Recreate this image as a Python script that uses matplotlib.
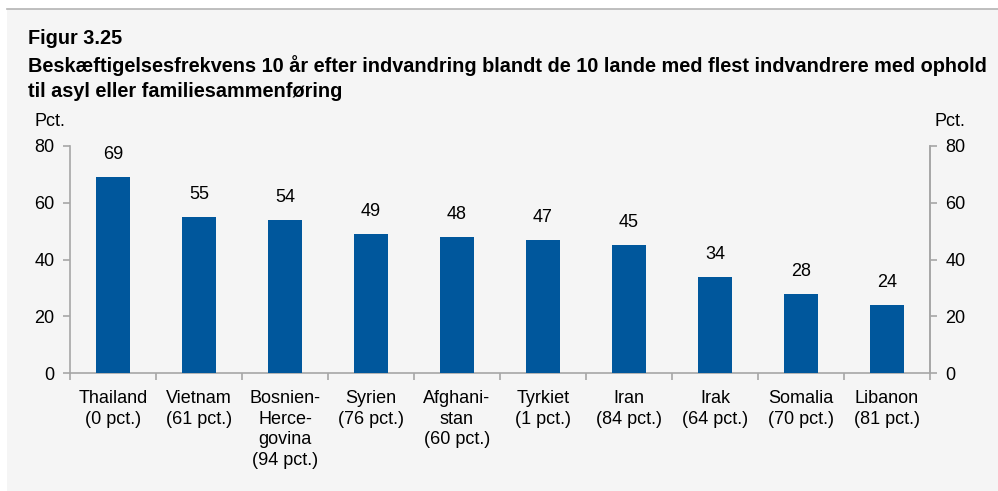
import matplotlib
matplotlib.use("Agg")
import matplotlib.pyplot as plt
from matplotlib.patches import Rectangle
from matplotlib.lines import Line2D

plt.rcParams['font.family'] = ['Liberation Sans', 'DejaVu Sans']

categories = ["Thailand\n(0 pct.)", "Vietnam\n(61 pct.)", "Bosnien-\nHerce-\ngovina\n(94 pct.)",
              "Syrien\n(76 pct.)", "Afghani-\nstan\n(60 pct.)", "Tyrkiet\n(1 pct.)",
              "Iran\n(84 pct.)", "Irak\n(64 pct.)", "Somalia\n(70 pct.)", "Libanon\n(81 pct.)"]
values = [69, 55, 54, 49, 48, 47, 45, 34, 28, 24]
yticks = [0, 20, 40, 60, 80]

W, H = 998, 491
fig = plt.figure(figsize=(W/100, H/100), dpi=100)
fig.patch.set_facecolor('white')
fig.patches.append(Rectangle((7/W, 0), 1 - 7/W, 1 - 9/H, transform=fig.transFigure,
                             facecolor='#f5f5f5', edgecolor='none', zorder=-10))
fig.lines.append(Line2D([7/W, 1], [1 - 9/H, 1 - 9/H], transform=fig.transFigure,
                        color='#b4b4b4', lw=1.2, zorder=-5))

tfs = 14.3
fig.text(28/W, 1 - 44/H, "Figur 3.25", fontsize=tfs, fontweight='bold', va='baseline')
fig.text(28/W, 1 - 72/H, "Beskæftigelsesfrekvens 10 år efter indvandring blandt de 10 lande med flest indvandrere med ophold",
         fontsize=tfs, fontweight='bold', va='baseline')
fig.text(28/W, 1 - 97/H, "til asyl eller familiesammenføring", fontsize=tfs, fontweight='bold', va='baseline')

ax = fig.add_axes([70/W, 1 - 373/H, 860/W, 227/H])
ax.set_facecolor('none')
x = list(range(len(values)))
ax.bar(x, values, width=0.4, color='#00579c', zorder=3)
ax.set_xlim(-0.5, len(values) - 0.5)
ax.set_ylim(0, 80)
ax.set_yticks(yticks)
ax.set_yticklabels([str(t) for t in yticks])
ax.set_xticks([i + 0.5 for i in range(-1, len(values))], minor=False)
ax.set_xticklabels([])
ax.set_xticks(x, minor=True)
ax.set_xticklabels(categories, minor=True, fontsize=13, linespacing=1.3)
ax.tick_params(axis='x', which='minor', length=0, pad=12)
ax.tick_params(axis='x', which='major', length=5, color='#a6a6a6', width=1.2, direction='out')
ax.tick_params(axis='y', length=5, color='#a6a6a6', width=1.2, labelsize=13, pad=6)
for s in ['top']:
    ax.spines[s].set_visible(False)
for s in ['left', 'right', 'bottom']:
    ax.spines[s].set_color('#a6a6a6')
    ax.spines[s].set_linewidth(1.2)

ax2 = ax.twinx()
ax2.set_ylim(0, 80)
ax2.set_yticks(yticks)
ax2.set_yticklabels([str(t) for t in yticks])
ax2.tick_params(axis='y', length=5, color='#a6a6a6', width=1.2, labelsize=13, pad=6)
for s in ['top', 'left', 'bottom']:
    ax2.spines[s].set_visible(False)
ax2.spines['right'].set_color('#a6a6a6')
ax2.spines['right'].set_linewidth(1.2)

for xi, v in zip(x, values):
    ax.annotate(str(v), (xi, v), xytext=(0, 10), textcoords='offset points',
                ha='center', va='bottom', fontsize=13)

fig.text(35/W, 1 - 122/H, "Pct.", fontsize=13, va='center', ha='left')
fig.text(935/W, 1 - 122/H, "Pct.", fontsize=13, va='center', ha='left')

fig.savefig("out.png", dpi=100)
